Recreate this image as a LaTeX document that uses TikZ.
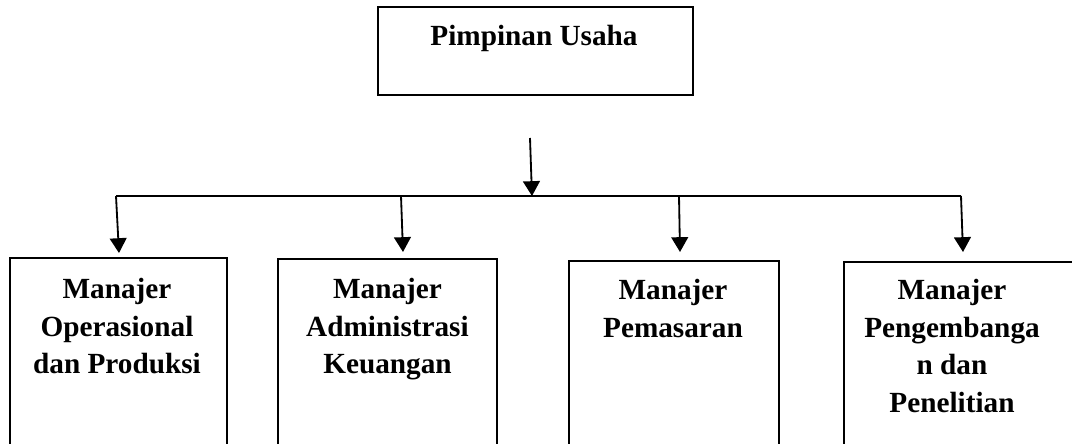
\documentclass[tikz,border=0pt]{standalone}
\usepackage{fontspec}
\setmainfont{Liberation Serif}
\usetikzlibrary{arrows.meta, positioning}

\tikzset{
	box/.style={rectangle, draw, line width=1.1pt, inner sep=0pt},
	lbl/.style={align=center, anchor=north, inner sep=0pt,
		font=\fontsize{20.8}{26.7}\selectfont\bfseries},
	arr/.style={line width=1.3pt, -{Triangle[length=0.37cm, width=0.42cm]}},
}

\begin{document}
\begin{tikzpicture}[x=0.025cm, y=-0.025cm]
			\useasboundingbox (0, 0) rectangle (1072, 444);

			\node (pu)[box, minimum width=7.875cm, minimum height=2.2cm] at (535.5, 51) {};
			\node (put)[lbl] at (534, 25) {Pimpinan Usaha};

			\node (mop)[box, minimum width=5.425cm, minimum height=5.05cm] at (118.5, 359) {};
			\node (mad)[box, minimum width=5.475cm, minimum height=5.025cm] at (387.5, 359.5) {};
			\node (mpm)[box, minimum width=5.25cm, minimum height=4.975cm] at (674, 360.5) {};
			\node (mpp)[box, minimum width=5.9cm, minimum height=4.95cm] at (962, 361) {};

			\node (mopt)[lbl] at (117, 278) {Manajer\\Operasional\\dan Produksi};
			\node (madt)[lbl] at (387.5, 278) {Manajer\\Administrasi\\Keuangan};
			\node (mpmt)[lbl] at (673, 279) {Manajer\\Pemasaran};
			\node (mppt)[lbl] at (952, 279) {Manajer\\Pengembanga\\n dan\\Penelitian};

			\coordinate (s0) at (530, 138);
			\coordinate (j0) at (532, 196);
			\coordinate (j1) at (116, 196);
			\coordinate (j2) at (401, 196);
			\coordinate (j3) at (679, 196);
			\coordinate (j4) at (961, 196);
			\coordinate (t1) at (119, 253);
			\coordinate (t2) at (403, 252);
			\coordinate (t3) at (680, 252);
			\coordinate (t4) at (963, 252);

			\draw[line width=1.3pt] (j1) -- (j4);
			\draw[arr] (s0) -- (j0);
			\draw[arr] (j1) -- (t1);
			\draw[arr] (j2) -- (t2);
			\draw[arr] (j3) -- (t3);
			\draw[arr] (j4) -- (t4);
		\end{tikzpicture}
\end{document}
